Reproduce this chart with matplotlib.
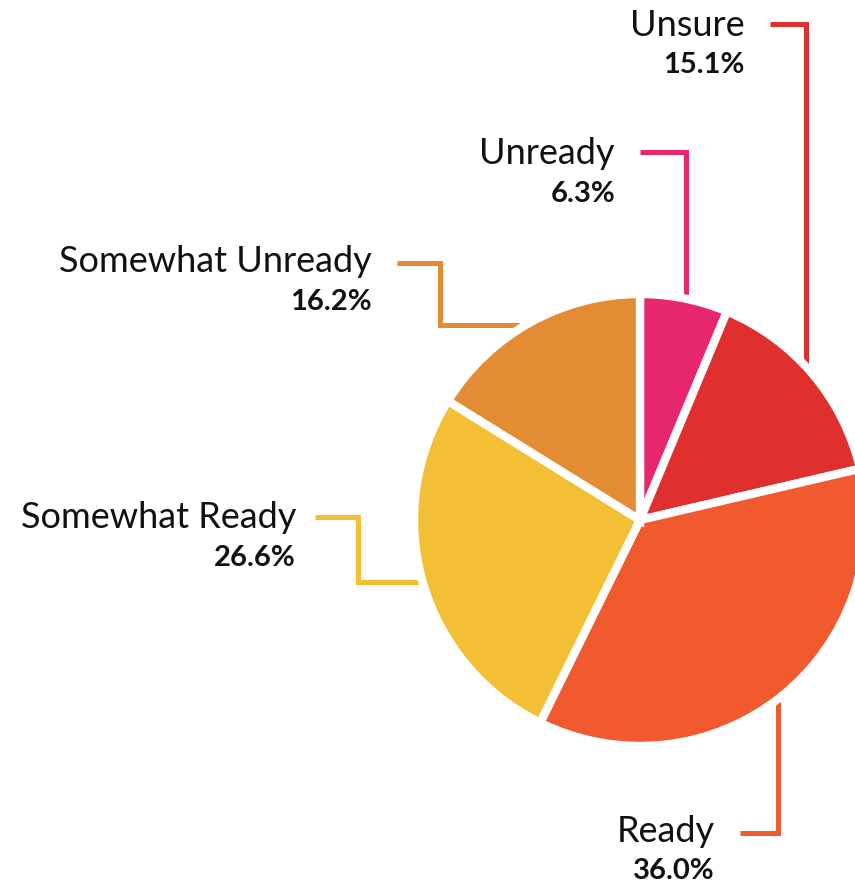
import matplotlib
matplotlib.use('Agg')
import matplotlib.pyplot as plt

# 数据（顺时针，从12点方向开始）
labels = ['Unready', 'Unsure', 'Ready', 'Somewhat Ready', 'Somewhat Unready']
values = [6.3, 15.1, 36.0, 26.6, 16.2]
colors = ['#E8266E', '#E0302E', '#F15A2E', '#F3C035', '#E38C34']

W, H = 855, 884
cx, cy, r = 640, 520, 226

# 标签位置（右对齐）和折线
label_pos = [(615, 153), (745, 24), (715, 830), (296, 517), (372, 261)]
leaders = [
    [(640, 152), (686, 152), (686, 320)],
    [(770, 24), (806, 24), (806, 390)],
    [(740, 833), (778, 833), (778, 680)],
    [(315, 517), (358, 517), (358, 582), (450, 582)],
    [(397, 263), (440, 263), (440, 325), (550, 325)],
]

plt.rcParams['font.family'] = ['Lato', 'DejaVu Sans']
fig = plt.figure(figsize=(W / 100, H / 100), dpi=100)
ax = fig.add_axes([0, 0, 1, 1])

for pts, c in zip(leaders, colors):
    xs = [p[0] for p in pts]
    ys = [p[1] for p in pts]
    ax.plot(xs, ys, color=c, lw=3.6, solid_joinstyle='miter', solid_capstyle='butt', zorder=1)

# y轴向下，所以用 startangle=-90 + 逆时针 得到从顶部顺时针
ax.pie(values, colors=colors, startangle=-90, counterclock=True,
       center=(cx, cy), radius=r, frame=True,
       wedgeprops=dict(edgecolor='white', linewidth=6, zorder=2))
ax.set_xlim(0, W)
ax.set_ylim(H, 0)
ax.set_aspect('equal')
ax.axis('off')

for (x, y), name, v in zip(label_pos, labels, values):
    ax.text(x, y + 1, name, ha='right', va='center', fontsize=26, color='#111111', zorder=3)
    ax.text(x, y + 41, f'{v:.1f}%', ha='right', va='center', fontsize=21,
            fontweight='bold', color='#111111', zorder=3)

fig.savefig('out.png', dpi=100)
